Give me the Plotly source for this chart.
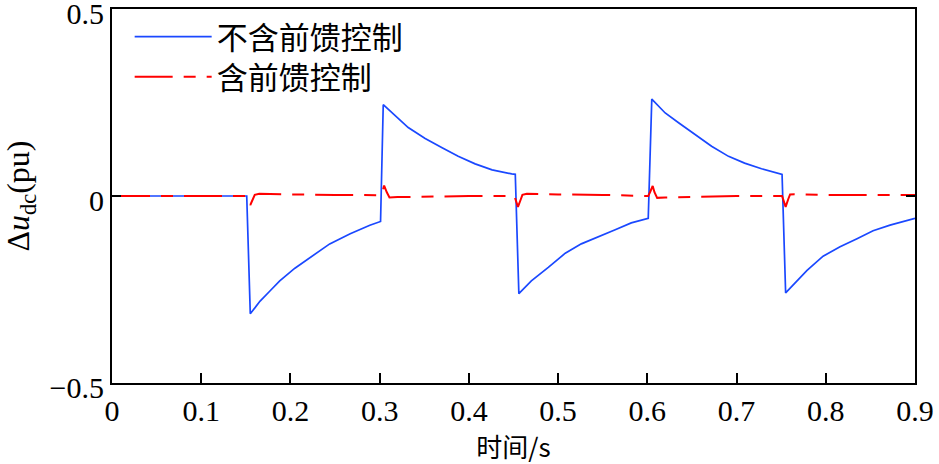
import plotly.graph_objects as go

# Blue: without feed-forward control
blue_t = [0.000, 0.151, 0.155, 0.166, 0.177, 0.188, 0.205, 0.222, 0.244, 0.267, 0.289, 0.301,
          0.304, 0.332, 0.351, 0.370, 0.388, 0.407, 0.426, 0.448, 0.452,
          0.456, 0.470, 0.489, 0.508, 0.526, 0.545, 0.564, 0.582, 0.601,
          0.605, 0.620, 0.635, 0.653, 0.672, 0.691, 0.709, 0.728, 0.749, 0.751,
          0.755, 0.779, 0.797, 0.816, 0.835, 0.853, 0.872, 0.900]
blue_v = [0.000, 0.000, -0.315, -0.281, -0.254, -0.227, -0.193, -0.164, -0.128, -0.101, -0.078, -0.068,
          0.244, 0.183, 0.154, 0.129, 0.106, 0.086, 0.070, 0.059, 0.058,
          -0.261, -0.227, -0.191, -0.153, -0.128, -0.108, -0.090, -0.072, -0.060,
          0.259, 0.222, 0.196, 0.165, 0.133, 0.106, 0.088, 0.073, 0.059, 0.058,
          -0.259, -0.199, -0.161, -0.136, -0.114, -0.093, -0.078, -0.060]

# Red: with feed-forward control
red_t = [0.000, 0.151, 0.155, 0.158, 0.160, 0.165, 0.180, 0.200, 0.250, 0.301, 0.303, 0.305, 0.308,
         0.311, 0.320, 0.340, 0.400, 0.451, 0.455, 0.458, 0.460, 0.465, 0.480, 0.500, 0.550,
         0.601, 0.603, 0.606, 0.608, 0.611, 0.620, 0.640, 0.700, 0.751, 0.755, 0.758, 0.760,
         0.765, 0.780, 0.800, 0.850, 0.900]
red_v = [0.000, 0.000, -0.024, -0.008, 0.003, 0.006, 0.006, 0.004, 0.003, 0.002, 0.010, 0.028, 0.010,
         -0.004, -0.003, -0.002, 0.000, 0.000, -0.029, -0.010, 0.003, 0.006, 0.005, 0.004, 0.003,
         0.000, 0.010, 0.027, 0.010, -0.005, -0.004, -0.003, 0.000, 0.000, -0.029, -0.008, 0.004,
         0.005, 0.004, 0.003, 0.003, 0.003]

x_ticks = [0, 0.1, 0.2, 0.3, 0.4, 0.5, 0.6, 0.7, 0.8, 0.9]
x_labels = ["0", "0.1", "0.2", "0.3", "0.4", "0.5", "0.6", "0.7", "0.8", "0.9"]
y_ticks = [-0.5, 0, 0.5]
y_labels = ["\u22120.5", "0", "0.5"]

serif = "Liberation Serif, Times New Roman, serif"
cjk = "Noto Sans CJK SC"

fig = go.Figure()
fig.add_trace(go.Scatter(x=blue_t, y=blue_v, mode="lines", name="不含前馈控制", showlegend=True,
                         line=dict(color="#1a48ff", width=1.7), legend="legend"))
fig.add_trace(go.Scatter(x=red_t, y=red_v, mode="lines", name="含前馈控制", showlegend=True,
                         line=dict(color="#ff0000", width=2, dash="38px,11px,12px,11px"),
                         legend="legend2"))

axis_common = dict(showline=True, linecolor="black", linewidth=2,
                   ticks="inside", tickcolor="black", tickwidth=1.5, showgrid=False,
                   zeroline=False, ticklabeloverflow="allow",
                   tickfont=dict(family=serif, size=30, color="black"))

fig.update_xaxes(range=[0, 0.9], tickvals=x_ticks, ticktext=x_labels, ticklen=10, mirror=True,
                 automargin=False,
                 title=dict(text="时间/s", font=dict(family=cjk + ", " + serif, size=26, color="black"),
                            standoff=4),
                 **axis_common)
fig.update_yaxes(range=[-0.5, 0.5], tickvals=y_ticks, ticktext=y_labels, ticklen=9, mirror="allticks",
                 ticklabelshift=4, automargin="left",
                 title=dict(text="Δ<i>u</i><sub>dc</sub>(pu)",
                            font=dict(family=serif, size=32, color="black"), standoff=12),
                 **axis_common)

leg_common = dict(xanchor="left", yanchor="middle", bgcolor="rgba(0,0,0,0)", borderwidth=0,
                  itemwidth=77, font=dict(family=cjk, size=31, color="black"), visible=True)
fig.update_layout(
    width=939, height=464,
    margin=dict(l=112, r=24, t=9, b=81),
    plot_bgcolor="white", paper_bgcolor="white",
    showlegend=True,
    legend=dict(x=0.022, y=0.925, **leg_common),
    legend2=dict(x=0.022, y=0.818, **leg_common),
)

fig.write_html("out.html")
